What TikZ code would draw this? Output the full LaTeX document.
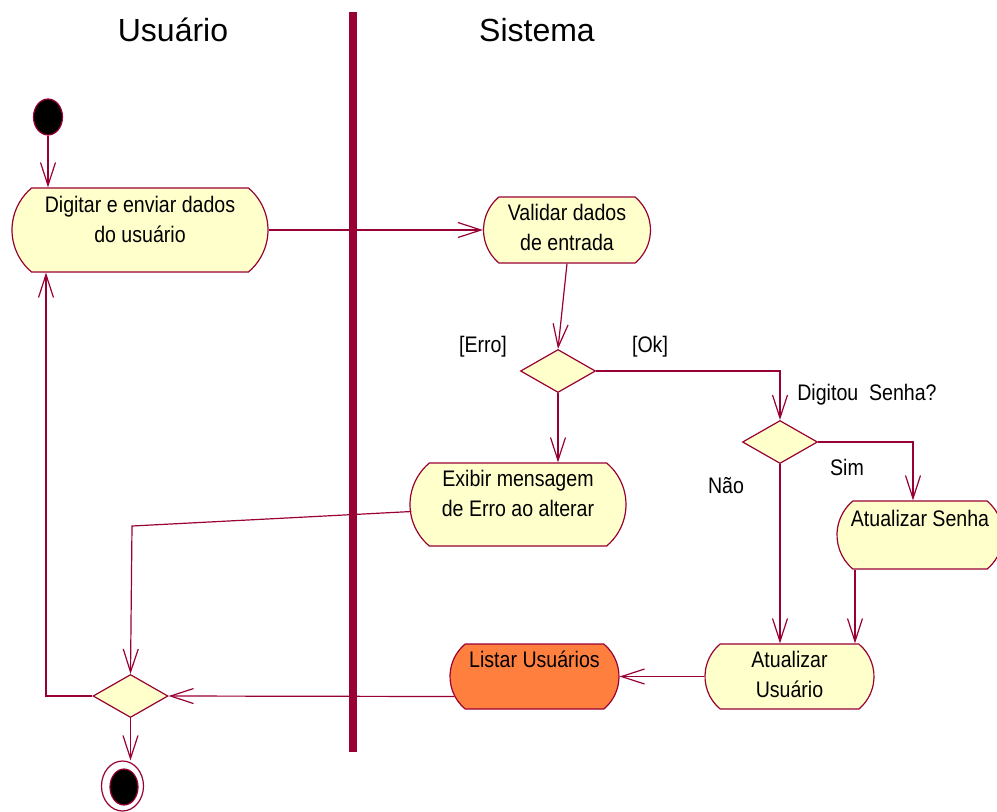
\documentclass[tikz,border=0pt]{standalone}
\usepackage{fontspec}
\setmainfont{Liberation Sans}
\newfontfamily\actfont[FakeStretch=0.87]{Liberation Sans}
\usetikzlibrary{shapes.geometric,shapes.misc,arrows.meta}

\definecolor{umlline}{HTML}{990033}
\definecolor{umlfill}{HTML}{FFFFCC}
\definecolor{umlorange}{HTML}{FF7F3F}

\tikzset{
  act/.style={rounded rectangle, rounded rectangle arc length=100,
    draw=umlline, fill=umlfill, line width=0.6pt,
    font=\actfont\fontsize{11.25}{15}\selectfont, align=center,
    inner sep=1pt, text height=8pt, text depth=17pt},
  acttwo/.style={act, text height=23pt, text depth=2.5pt},
  acttall/.style={act, text height=23pt, text depth=11pt},
  choice/.style={diamond, draw=umlline, fill=umlfill, line width=0.6pt,
    inner sep=0pt, minimum width=37.5pt, minimum height=21.5pt},
  flow/.style={draw=umlline, line width=0.6pt,
    -{Straight Barb[length=11.5pt,width=7.5pt,line width=0.6pt]}},
  guard/.style={font=\actfont\fontsize{11.25}{15}\selectfont, inner sep=0pt},
  lanetitle/.style={font=\fontsize{16}{19}\selectfont, inner sep=0pt},
  lane/.style={draw=umlline, line width=4pt},
  startdot/.style={ellipse, draw=umlline, fill=black, line width=0.6pt, inner sep=0pt},
}

\begin{document}
\begin{tikzpicture}[x=0.5pt,y=-0.5pt]
	\useasboundingbox (0,0) rectangle (997,811);
	\clip (0,0) rectangle (997,811);
	% lanes
	\node[lanetitle] (usuario) at (173,30) {Usuário};
	\node[lanetitle] (sistema) at (537,30) {Sistema};
	\draw[lane] (352.5,12) -- (352.5,752);
	% start / end
	\node[startdot, minimum width=14.5pt, minimum height=18pt] (start) at (48,117) {};
	\node[ellipse, draw=umlline, fill=white, line width=0.6pt, inner sep=0pt,
		minimum width=21pt, minimum height=25pt] (final) at (122.5,786) {};
	\node[startdot, minimum width=14pt, minimum height=18pt] (finaldot) at (124,787) {};
	% activities
	\node[acttall, minimum width=130pt, minimum height=42pt] (digitar) at (140,230)
		{Digitar e enviar dados\\do usuário};
	\node[acttwo, minimum width=85.5pt, minimum height=33pt] (validar) at (567,230)
		{Validar dados\\de entrada};
	\node[acttall, minimum width=110pt, minimum height=41.5pt] (exibir) at (518,504.5)
		{Exibir mensagem\\de Erro ao alterar};
	\node[act, minimum width=85pt, minimum height=34pt] (senha) at (920,535)
		{Atualizar Senha};
	\node[acttwo, minimum width=86.5pt, minimum height=32.5pt] (atualizar) at (789.5,676.5)
		{Atualizar\\Usuário};
	\node[act, fill=umlorange, minimum width=86.5pt, minimum height=32.5pt] (listar) at (534.5,676.5)
		{Listar Usuários};
	% decisions
	\node[choice] (valido) at (558,371) {};
	\node[choice] (temsenha) at (780,442) {};
	\node[choice] (merge) at (130.5,696) {};
	% guards
	\node[guard] (erro) at (483,347) {[Erro]};
	\node[guard] (ok) at (650,347) {[Ok]};
	\node[guard] (pergunta) at (867,395) {Digitou\ \ Senha?};
	\node[guard] (sim) at (847,467) {Sim};
	\node[guard] (nao) at (726,486) {Não};
	\coordinate (errbend) at (132,526);
	% transitions
	\draw[flow] (start) -- (start |- digitar.north);
	\draw[flow] (digitar.east) -- (validar.west);
	\draw[flow] (validar.south) -- (valido.north);
	\draw[flow] (valido.south) -- (valido.south |- exibir.north);
	\draw[flow] (valido.east) -| (temsenha.north);
	\draw[flow] (temsenha.east) -| ([xshift=-3.5pt]senha.north);
	\draw[flow] (temsenha.south) -- (temsenha.south |- atualizar.north);
	\draw[flow] ([xshift=-32.5pt]senha.south) -- ([xshift=-32.5pt]senha.south |- atualizar.north);
	\draw[flow] (atualizar.west) -- (listar.west -| listar.east);
	\draw[flow] ([shift={(5,20)}]listar.west) -- (merge.east);
	\draw[flow] ([shift={(2,7)}]exibir.west) -- (errbend) -- (merge.north);
	\draw[flow] (merge.west) -| ([xshift=-47pt]digitar.south);
	\draw[flow] (merge.south) -- (merge.south |- final.north);
\end{tikzpicture}
\end{document}
